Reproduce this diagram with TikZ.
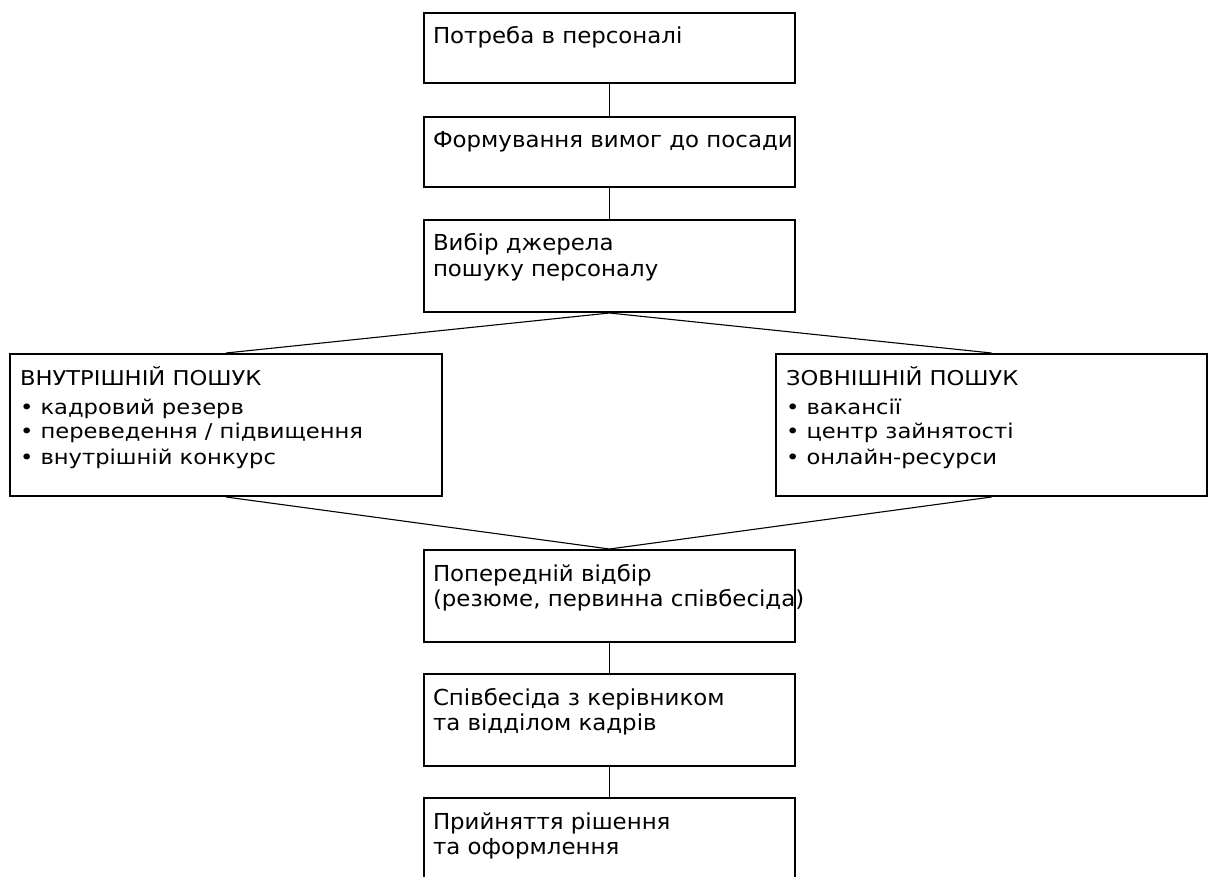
\documentclass[tikz,border=0pt]{standalone}
\usepackage{fontspec}
\setmainfont{DejaVu Sans}
\newfontfamily\cfont[FakeStretch=1.04]{DejaVu Sans}
\newfontfamily\sfont[FakeStretch=1.11]{DejaVu Sans}
\newcommand\ctxtbox[3]{\parbox[c][#2][t]{#1}{\raggedright\leftskip=9pt\cfont\fontsize{22}{25.8}\selectfont\rule{0pt}{31pt}#3\par}}
\newcommand\stxtbox[3]{\parbox[c][#2][t]{#1}{\raggedright\leftskip=10pt\sfont\fontsize{20.4}{25}\selectfont\rule{0pt}{31pt}#3\par}}
\tikzset{
  stepbox/.style={draw, line width=2pt, inner sep=0pt, anchor=north west, fill=white},
  link/.style={line width=1.8pt},
  slant/.style={line width=1.1pt},
}
\begin{document}
\begin{tikzpicture}[x=1pt,y=-1pt]
\useasboundingbox[fill=white] (0,0) rectangle (1208,877);
\node[stepbox] (b1) at (423,12) {\ctxtbox{371pt}{70pt}{Потреба в персоналі}};
\node[stepbox] (b2) at (423,116) {\ctxtbox{371pt}{70pt}{\mbox{Формування вимог до посади}}};
\node[stepbox] (b3) at (423,219) {\ctxtbox{371pt}{92pt}{Вибір джерела\\пошуку персоналу}};
\node[stepbox] (in) at (9,353) {\stxtbox{432pt}{142pt}{ВНУТРІШНІЙ ПОШУК\\[4pt]• кадровий резерв\\• переведення / підвищення\\• внутрішній конкурс}};
\node[stepbox] (ex) at (775,353) {\stxtbox{431pt}{142pt}{ЗОВНІШНІЙ ПОШУК\\[4pt]• вакансії\\• центр зайнятості\\• онлайн-ресурси}};
\node[stepbox] (b4) at (423,549) {\ctxtbox{371pt}{92pt}{Попередній відбір\\\mbox{(резюме, первинна співбесіда)}}};
\node[stepbox] (b5) at (423,673) {\ctxtbox{371pt}{92pt}{Співбесіда з керівником\\та відділом кадрів}};
\node[stepbox] (b6) at (423,797) {\ctxtbox{371pt}{92pt}{Прийняття рішення\\та оформлення}};
\draw[link] (b1.south) -- (b2.north);
\draw[link] (b2.south) -- (b3.north);
\draw[slant] (b3.south) -- (in.north);
\draw[slant] (b3.south) -- (ex.north);
\draw[slant] (in.south) -- (b4.north);
\draw[slant] (ex.south) -- (b4.north);
\draw[link] (b4.south) -- (b5.north);
\draw[link] (b5.south) -- (b6.north);
\end{tikzpicture}
\end{document}
